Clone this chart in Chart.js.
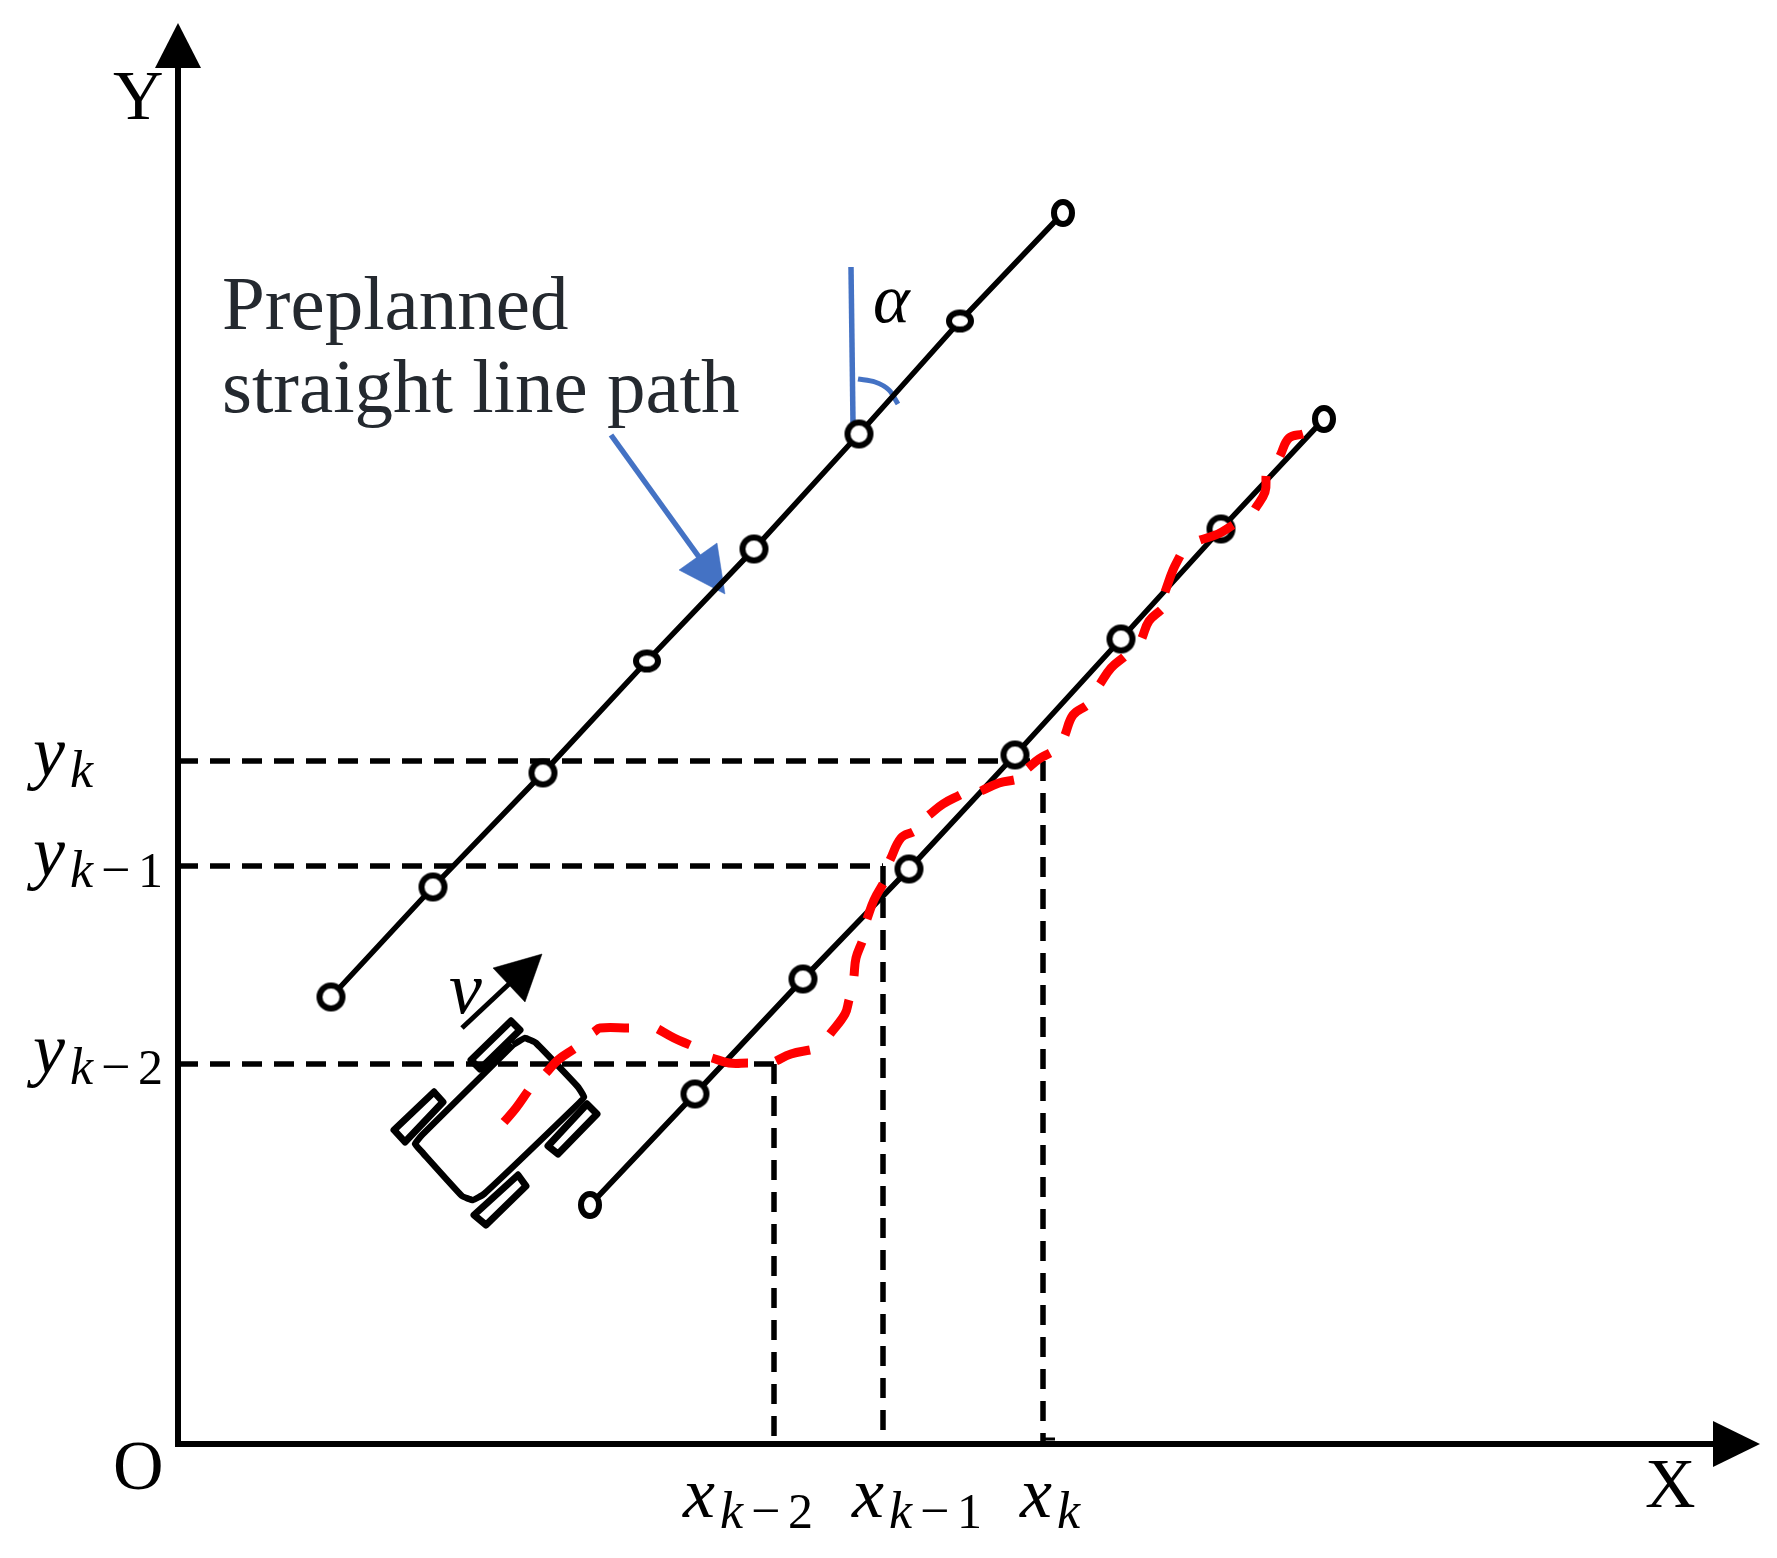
<!DOCTYPE html>
<html>
<head>
<meta charset="utf-8">
<style>
  html, body { margin: 0; background: #fff; }
  canvas { display: block; }
</style>
<script src="https://cdn.jsdelivr.net/npm/chart.js@4"></script>
</head>
<body>
<canvas id="myChart" width="1777" height="1558"></canvas>
<script>
// preplanned path (upper line) and the tracked path (lower line)
const upperX = [153, 255, 365, 469, 576, 681, 782, 885];
const upperY = [447, 557, 671, 783, 895, 1010, 1123, 1231];
const lowerX = [412, 517, 625, 731, 837, 943, 1043, 1146];
const lowerY = [239, 350, 465, 575, 689, 805, 915, 1025];

// axis positions of the sampled points
const xTicks = [596, 705, 865];
const yTicks = [380, 578, 683];
const tickSubs = ['-2', '-1', ''];

// actual trajectory, null between the hand drawn dashes
const redX = [326, 338, 350, null, 368, 380, 396, null, 416, 422, 451, null, 480, 496, 512, null,
  534, 551, 570, null, 598, 613, 632, null, 652, 667, 671, null, 676, 678, 684, null,
  689, 696, 705, null, 712, 723, 735, null, 751, 765, 782, null, 803, 821, 836, null,
  850, 861, 872, null, 887, 895, 908, null, 922, 933, 946, null, 964, 971, 983, null,
  987, 995, 1002, null, 1022, 1040, 1055, null, 1077, 1087, 1088, null, 1102, 1111, 1125];
const redY = [322, 336, 353, null, 371, 384, 395, null, 412, 416, 416, null, 415, 406, 399, null,
  386, 381, 381, null, 383, 390, 394, null, 410, 430, 444, null, 468, 486, 502, null,
  525, 544, 560, null, 584, 606, 612, null, 629, 640, 649, null, 653, 661, 664, null,
  676, 685, 691, null, 709, 729, 738, null, 760, 776, 787, null, 806, 823, 834, null,
  852, 874, 888, null, 904, 910, 919, null, 935, 952, 968, null, 988, 1006, 1010];

// vehicle
const bodyX = [335, 347, 358, 400, 406, 398, 306, 295, 284, 244, 237, 244, 335];
const bodyY = [399, 406, 401, 357, 347, 338, 250, 244, 248, 292, 300, 309, 399];
const wheelX = [333, 342, 302, 293, 333, null, 256, 265, 227, 216, 256, null, 409, 419, 380, 370, 409, null, 340, 348, 308, 296, 340];
const wheelY = [423, 414, 375, 384, 423, null, 352, 342, 302, 314, 352, null, 340, 330, 290, 298, 340, null, 269, 258, 219, 229, 269];
const speedX = [284, 331];
const speedY = [416, 460];
const speedHeadX = [364, 315, 347, 364];
const speedHeadY = [490, 476, 442, 490];

// blue annotations
const headingX = [673, 675];
const headingY = [1177, 1021];
const angleX = [680, 697, 711, 720];
const angleY = [1065, 1062, 1054, 1040];
const leaderX = [433, 521];
const leaderY = [1009, 887];
const leaderHeadX = [539, 501, 547, 539];
const leaderHeadY = [901, 874, 850, 901];

// axis arrow heads, they sit outside the chart area
const xHeadX = [1535, 1582, 1535];
const xHeadY = [23, 0, -23];
const yHeadX = [-23, 0, 23];
const yHeadY = [1376, 1421, 1376];

const xMax = 1535;
const yMax = 1376;
const BLUE = '#4472c4';
const RED = '#ff0000';

function marker(w, h) {
    const c = document.createElement('canvas');
    c.width = w + 2;
    c.height = h + 2;
    const g = c.getContext('2d');
    g.beginPath();
    g.ellipse(c.width / 2, c.height / 2, w / 2 - 3, h / 2 - 3, 0, 0, Math.PI * 2);
    g.fillStyle = '#fff';
    g.fill();
    g.lineWidth = 6;
    g.strokeStyle = '#000';
    g.stroke();
    return c;
}

const round = marker(29, 29);
const wide = marker(28, 23);
const tall = marker(24, 28);

function path(xs, ys, color, width, extra) {
    return Object.assign({
        data: xs.map((x, i) => ({ x: x, y: ys[i] })),
        showLine: true,
        borderColor: color,
        backgroundColor: color,
        borderWidth: width,
        pointRadius: 0,
        clip: false
    }, extra);
}

// first dataset ends up on top
const datasets = [
    path(redX, redY, RED, 9, { tension: 0.4 }),
    path(upperX, upperY, '#000', 5.5, { pointRadius: 14, pointStyle: [round, round, round, wide, round, round, wide, tall] }),
    path(lowerX, lowerY, '#000', 5.5, { pointRadius: 14, pointStyle: [tall, round, round, round, round, round, round, tall] }),
    path(bodyX, bodyY, '#000', 6.5, { borderJoinStyle: 'round', tension: 0.1 }),
    path(wheelX, wheelY, '#000', 7, { borderJoinStyle: 'round', borderCapStyle: 'round' }),
    path(speedX, speedY, '#000', 5),
    path(speedHeadX, speedHeadY, '#000', 0.5, { fill: 'shape' })
];

const dash = { borderDash: [20, 12] };
xTicks.forEach((x, i) => {
    datasets.push(path([0, x], [yTicks[i], yTicks[i]], '#000', 5.5, dash));
    datasets.push(path([x, x], [yTicks[i], 0], '#000', 5.5, dash));
});
datasets.push(path([865, 877], [5, 5], '#000', 3));

datasets.push(
    path(headingX, headingY, BLUE, 5.5),
    path(angleX, angleY, BLUE, 5, { tension: 0.3 }),
    path(leaderX, leaderY, BLUE, 5.5),
    path(leaderHeadX, leaderHeadY, BLUE, 0.5, { fill: 'shape' })
);

// text and axis arrow heads
const annotations = {
    id: 'annotations',
    afterDraw(chart) {
        const { ctx, scales: { x, y } } = chart;
        const serif = '"Liberation Serif"';

        function put(text, px, py, font, color) {
            ctx.font = font + ' ' + serif;
            ctx.fillStyle = color || '#000';
            ctx.fillText(text, px, py);
        }

        function head(xs, ys) {
            ctx.beginPath();
            xs.forEach((v, i) => ctx.lineTo(x.getPixelForValue(v), y.getPixelForValue(ys[i])));
            ctx.closePath();
            ctx.fillStyle = '#000';
            ctx.fill();
        }

        function sub(main, left, base, suffix) {
            put(main, left, base, 'italic 72px');
            put('k', left + 37, base + 11, 'italic 52px');
            if (suffix) {
                put('\u2212', left + 68, base + 11, '52px');
                put(suffix.slice(1), left + 105, base + 11, '50px');
            }
        }

        ctx.save();
        ctx.textAlign = 'left';
        ctx.textBaseline = 'alphabetic';

        head(xHeadX, xHeadY);
        head(yHeadX, yHeadY);

        put('Preplanned', 222, 329, '77px', '#24292f');
        put('straight line path', 222, 412, '77px', '#24292f');

        put('Y', 113, 119, '70px');
        put('X', 1645, 1507, '70px');
        put('O', 113, 1489, '70px');
        put('\u03b1', 873, 322, 'italic 70px');
        put('v', 449, 1013, 'italic 74px');

        const xOffsets = [91, 31, 23];
        const yBases = [9, 10, 15];
        tickSubs.forEach((s, i) => {
            sub('x', x.getPixelForValue(xTicks[i]) - xOffsets[i], 1517, s);
            sub('y', 33, y.getPixelForValue(yTicks[i]) + yBases[i], s);
        });
        ctx.restore();
    }
};

const axisOptions = {
    type: 'linear',
    min: 0,
    grid: { display: false, drawTicks: false },
    ticks: { display: false },
    border: { display: true, color: '#000', width: 6 }
};

new Chart(document.getElementById('myChart'), {
    type: 'scatter',
    data: { datasets: datasets },
    options: {
        responsive: false,
        devicePixelRatio: 1,
        animation: false,
        layout: { padding: { left: 178, top: 68, right: 64, bottom: 114 } },
        scales: {
            x: Object.assign({}, axisOptions, { max: xMax }),
            y: Object.assign({}, axisOptions, { max: yMax })
        },
        plugins: {
            legend: { display: false },
            tooltip: { enabled: false }
        }
    },
    plugins: [annotations]
});
</script>
</body>
</html>
